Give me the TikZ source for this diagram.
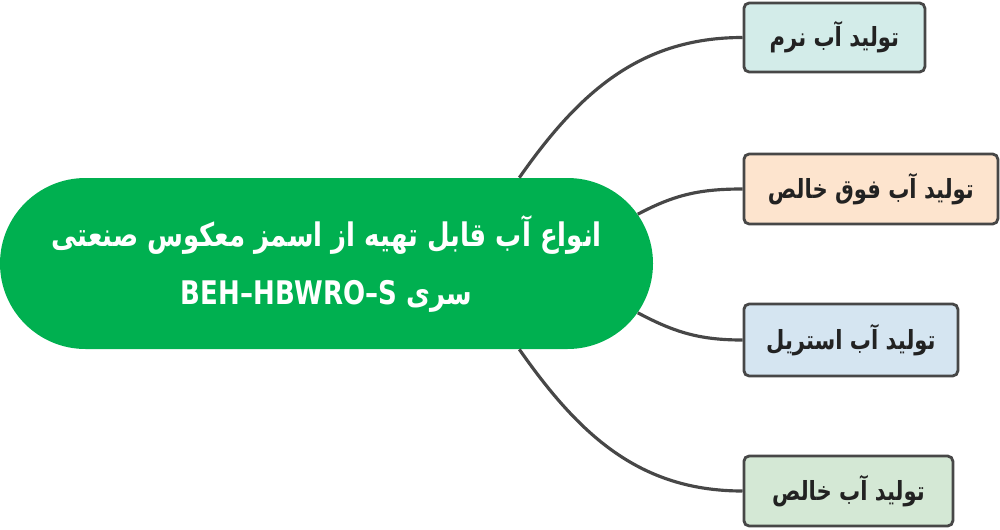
\documentclass[tikz,border=0pt]{standalone}
\usepackage{fontspec}
\usepackage{tikz}
\usetikzlibrary{shapes.misc}
\TeXXeTstate=1
\newfontfamily\farsi[Script=Arabic, FakeStretch=0.8]{DejaVu Sans}
\definecolor{mainGreen}{HTML}{00B050}
\definecolor{lineGray}{HTML}{474747}
\definecolor{textDark}{HTML}{222222}
\definecolor{fillTeal}{HTML}{D3ECE9}
\definecolor{fillPeach}{HTML}{FDE4CE}
\definecolor{fillBlue}{HTML}{D5E5F1}
\definecolor{fillGreen}{HTML}{D4E8D5}
\tikzset{
  leaf/.style={draw=lineGray, line width=1.6pt, rounded corners=3pt, anchor=west,
    inner xsep=0pt, text=textDark, font=\farsi\bfseries\fontsize{15}{18}\selectfont},
  link/.style={draw=lineGray, line width=1.8pt},
}

\begin{document}
\begin{tikzpicture}
   \useasboundingbox (0,0) rectangle (20,10.58);
   \node(M)[rounded rectangle, fill=mainGreen, minimum width=13.06cm, minimum height=3.42cm,
     inner sep=0pt] at (6.53,5.31) {};
   \node(MT)[text=white, align=center, font=\farsi\bfseries\fontsize{18.5}{33}\selectfont]
     at (M.center)
     {\beginR انواع آب قابل تهیه از اسمز معکوس صنعتی\endR\\
      \beginR سری \beginL BEH–HBWRO–S\endL\endR};

   \node(N1)[leaf, fill=fillTeal, minimum width=3.62cm, minimum height=1.38cm] at (14.85,9.83)
     {\beginR تولید آب نرم\endR};
   \node(N2)[leaf, fill=fillPeach, minimum width=5.08cm, minimum height=1.40cm] at (14.85,6.80)
     {\beginR تولید آب فوق خالص\endR};
   \node(N3)[leaf, fill=fillBlue, minimum width=4.28cm, minimum height=1.44cm] at (14.85,3.78)
     {\beginR تولید آب استریل\endR};
   \node(N4)[leaf, fill=fillGreen, minimum width=4.18cm, minimum height=1.40cm] at (14.85,0.76)
     {\beginR تولید آب خالص\endR};

   \draw[link] (M.24) to[out=55, in=180] (N1.west);
   \draw[link] (M.9) to[out=28, in=180] (N2.west);
   \draw[link] (M.-9) to[out=-28, in=180] (N3.west);
   \draw[link] (M.-24) to[out=-55, in=180] (N4.west);
\end{tikzpicture}
\end{document}
